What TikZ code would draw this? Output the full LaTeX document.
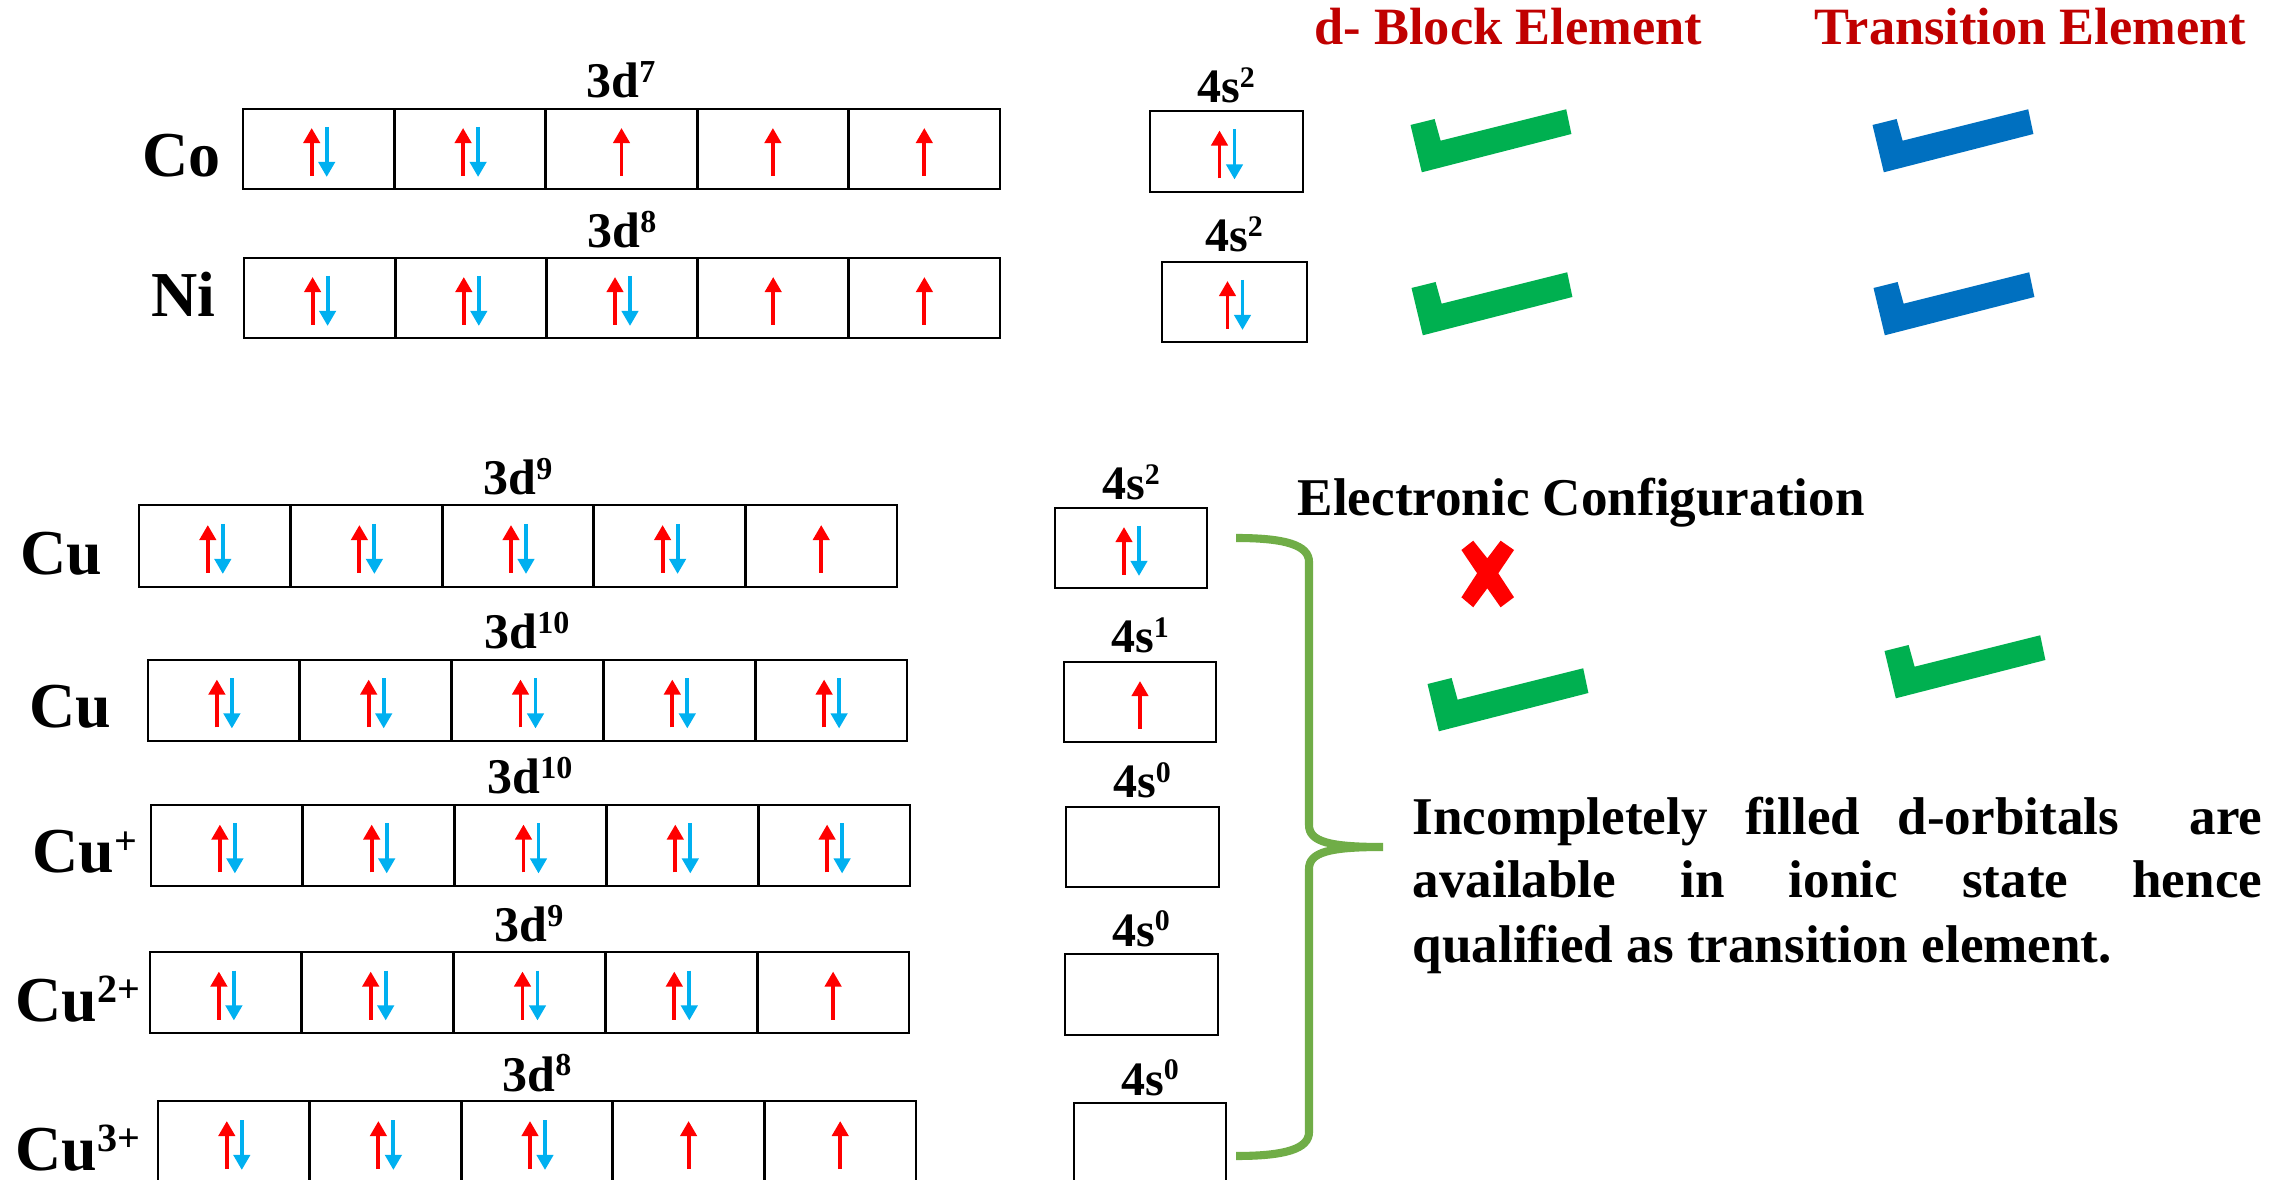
\documentclass[tikz,border=0pt]{standalone}
\usepackage{fontspec}
\setmainfont{Liberation Serif}
\usetikzlibrary{arrows.meta}
\definecolor{spinup}{HTML}{FF0000}
\definecolor{spindn}{HTML}{00B0F0}
\definecolor{chkgreen}{HTML}{00B050}
\definecolor{chkblue}{HTML}{0070C0}
\definecolor{hdrred}{HTML}{C00000}
\definecolor{brgreen}{HTML}{70AD47}
\newcommand\fsz[1]{\fontsize{#1pt}{#1pt}\selectfont}
\newcommand\supr[3]{\raisebox{#2}{\fsz{#1}#3}}
\tikzset{
  cell/.style={draw, line width=0.8pt, inner sep=0pt, outer sep=0pt},
  upsp/.style={spinup, line width=1.1pt, -{Triangle[length=4.3pt,width=4.6pt]}},
  dnsp/.style={spindn, line width=1.1pt, -{Triangle[length=4.3pt,width=4.6pt]}},
  elem/.style={anchor=base west, inner sep=0pt, font=\bfseries\fsz{18.2}},
  dlab/.style={anchor=base, inner sep=0pt, font=\bfseries\fsz{14.2}},
  slab/.style={anchor=base, inner sep=0pt, font=\bfseries\fsz{13.66}},
  hdr/.style={anchor=base west, inner sep=0pt, text=hdrred, font=\bfseries\fsz{14.9}},
  ptext/.style={anchor=base west, inner sep=0pt, font=\bfseries\fsz{15.1}},
}
\newcommand\orbrow[7]{%
  \pgfmathsetmacro\cw{(#5-#3)/#2}%
  \pgfmathsetmacro\cwd{\cw*0.01}%
  \pgfmathsetmacro\chd{(#6-#4)*0.01}%
  \pgfmathsetmacro\cyy{(#4+#6)/2}%
  \foreach \occ [count=\i] in {#7} {
    \pgfmathsetmacro\cx{#3+(\i-0.5)*\cw}
    \node[cell, minimum width=\cwd cm, minimum height=\chd cm] (#1-\i) at (\cx,\cyy) {};
    \ifcase\occ\relax
    \or
      \draw[upsp] ([shift={(0,27)}]#1-\i.center) -- ([shift={(0,-21)}]#1-\i.center);
    \or
      \draw[upsp] ([shift={(-7,27)}]#1-\i.center) -- ([shift={(-7,-21)}]#1-\i.center);
      \draw[dnsp] ([shift={(8,-22)}]#1-\i.center) -- ([shift={(8,28)}]#1-\i.center);
    \fi
  }%
}
\newcommand\chk[3]{% colour, x, y (top-left)
  \fill[#1] (#2+0.5,#3+16) -- (#2+24.6,#3+10) -- (#2+30.6,#3+31.7) -- (#2+156.2,#3+0.3)
    -- (#2+161.4,#3+25) -- (#2+11.8,#3+63.3) -- cycle;
}
\begin{document}
\begin{tikzpicture}[x=0.01cm,y=-0.01cm]
\useasboundingbox (0,0) rectangle (2279,1180);
\clip (0,0) rectangle (2279,1180);
\fill[white] (0,0) rectangle (2279,1180);

% headers
\node[hdr] (hdb) at (1314,45) {d- Block Element};
\node[hdr] (htr) at (1814,45) {Transition Element};

% Co
\node[elem] (lco) at (142,177) {Co};
\node[dlab] (dco) at (621,98) {3d\supr{9.1pt}{0.15cm}{7}};
\orbrow{co3d}{5}{243}{109}{1000}{189}{2,2,1,1,1}
\node[slab] (sco) at (1226,103) {4s\supr{8.5pt}{0.15cm}{2}};
\orbrow{co4s}{1}{1150}{111}{1303}{192}{2}

% Ni
\node[elem] (lni) at (151,317) {Ni};
\node[dlab] (dni) at (622,248) {3d\supr{9.1pt}{0.15cm}{8}};
\orbrow{ni3d}{5}{244}{258}{1000}{338}{2,2,2,1,1}
\node[slab] (sni) at (1234,252) {4s\supr{8.5pt}{0.15cm}{2}};
\orbrow{ni4s}{1}{1162}{262}{1307}{342}{2}

% Cu
\node[elem] (lcua) at (20,575) {Cu};
\node[dlab] (dcua) at (518,495) {3d\supr{9.1pt}{0.15cm}{9}};
\orbrow{cua3d}{5}{139}{505}{897}{587}{2,2,2,2,1}
\node[slab] (scua) at (1131,500) {4s\supr{8.5pt}{0.15cm}{2}};
\orbrow{cua4s}{1}{1055}{508}{1207}{588}{2}

% Cu (excited)
\node[elem] (lcub) at (29,728) {Cu};
\node[dlab] (dcub) at (527,649) {3d\supr{9.1pt}{0.15cm}{10}};
\orbrow{cub3d}{5}{148}{660}{907}{741}{2,2,2,2,2}
\node[slab] (scub) at (1140,653) {4s\supr{8.5pt}{0.15cm}{1}};
\orbrow{cub4s}{1}{1064}{662}{1216}{742}{1}

% Cu+
\node[elem] (lcup) at (32,873) {Cu\supr{11.4pt}{0.18cm}{+}};
\node[dlab] (dcup) at (530,794) {3d\supr{9.1pt}{0.15cm}{10}};
\orbrow{cup3d}{5}{151}{805}{910}{886}{2,2,2,2,2}
\node[slab] (scup) at (1142,798) {4s\supr{8.5pt}{0.15cm}{0}};
\orbrow{cup4s}{1}{1066}{807}{1219}{887}{0}

% Cu2+
\node[elem] (lcupp) at (15,1021) {Cu\supr{11.4pt}{0.18cm}{2+}};
\node[dlab] (dcupp) at (529,942) {3d\supr{9.1pt}{0.15cm}{9}};
\orbrow{cupp3d}{5}{150}{952}{909}{1033}{2,2,2,2,1}
\node[slab] (scupp) at (1141,946) {4s\supr{8.5pt}{0.15cm}{0}};
\orbrow{cupp4s}{1}{1065}{954}{1218}{1035}{0}

% Cu3+
\node[elem] (lcuppp) at (15,1170) {Cu\supr{11.4pt}{0.18cm}{3+}};
\node[dlab] (dcuppp) at (537,1091) {3d\supr{9.1pt}{0.15cm}{8}};
\orbrow{cuppp3d}{5}{158}{1101}{916}{1183}{2,2,2,1,1}
\node[slab] (scuppp) at (1150,1095) {4s\supr{8.5pt}{0.15cm}{0}};
\orbrow{cuppp4s}{1}{1074}{1103}{1226}{1185}{0}

% check marks
\chk{chkgreen}{1410}{109}
\chk{chkblue}{1872}{109}
\chk{chkgreen}{1411}{272}
\chk{chkblue}{1873}{272}
\chk{chkgreen}{1427}{668}
\chk{chkgreen}{1884}{635}

% red cross
\fill[spinup] (1461.4,550) -- (1473.2,540.7) -- (1487.3,558.3) -- (1500.6,540.7) -- (1514,550)
  -- (1498.3,573.3) -- (1514,597.3) -- (1500.6,607.3) -- (1487.3,588.3) -- (1473.2,607.3)
  -- (1461.4,597.3) -- (1477.1,573.3) -- cycle;

% Electronic configuration title
\node[ptext] (ecfg) at (1297,516) {Electronic Configuration};

% brace
\coordinate (brtop) at (1236,538);
\coordinate (brtip) at (1383,847);
\coordinate (brbot) at (1236,1156);
\draw[brgreen, line width=2.3pt] (brtop) .. controls (1285,538) and (1309,545) .. (1309,562)
  -- (1309,825) .. controls (1309,842) and (1330,847) .. (brtip)
  .. controls (1330,847) and (1309,852) .. (1309,869)
  -- (1309,1132) .. controls (1309,1149) and (1285,1156) .. (brbot);

% paragraph
\node[ptext] (p1) at (1412,834) {\makebox[8.49cm][s]{Incompletely filled d-orbitals\hspace{0.33cm} are}};
\node[ptext] (p2) at (1412,898) {\makebox[8.49cm][s]{available in ionic state hence}};
\node[ptext] (p3) at (1412,962) {qualified as transition element.};
\end{tikzpicture}
\end{document}
